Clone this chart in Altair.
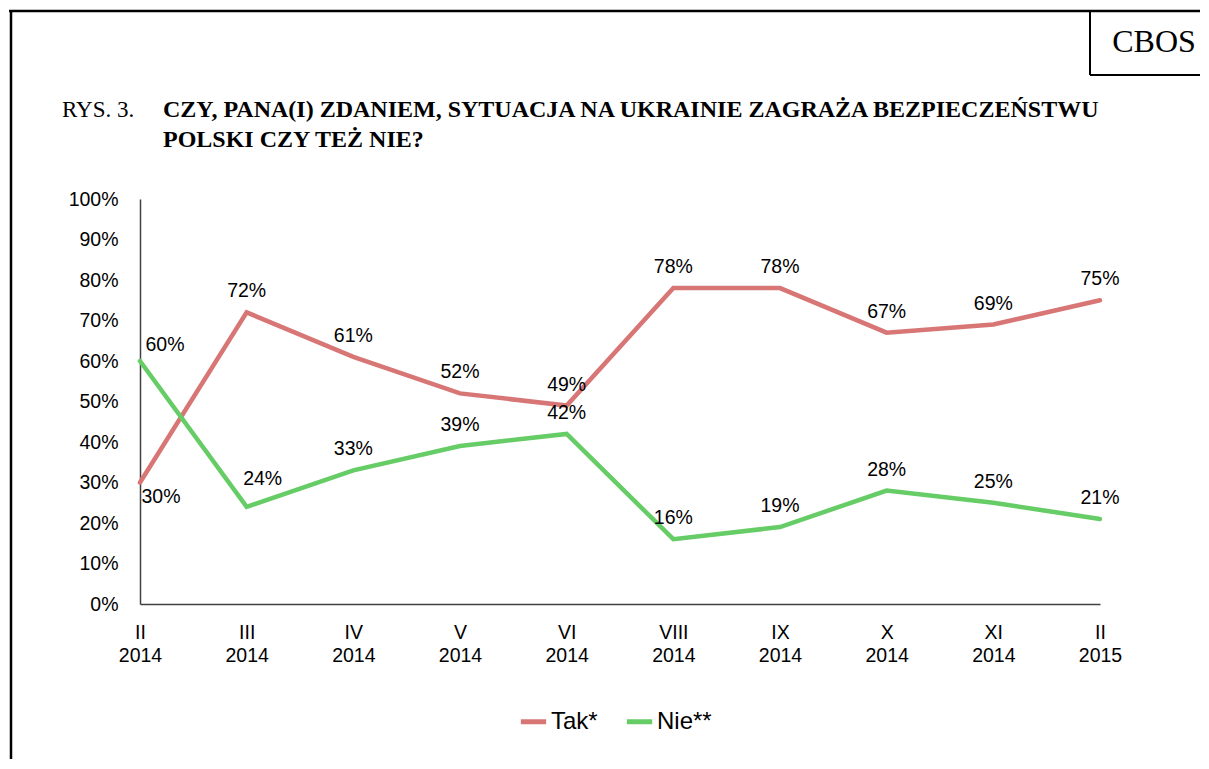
import altair as alt
import pandas as pd

months = ["II 2014", "III 2014", "IV 2014", "V 2014", "VI 2014", "VIII 2014",
          "IX 2014", "X 2014", "XI 2014", "II 2015"]
tak = [30, 72, 61, 52, 49, 78, 78, 67, 69, 75]
nie = [60, 24, 33, 39, 42, 16, 19, 28, 25, 21]
series_names = ["Tak*", "Nie**"]
colors = ["#D87676", "#66CC66"]

rows = []
for i, m in enumerate(months):
    rows.append({"month": m, "idx": i, "series": "Tak*", "value": tak[i]})
    rows.append({"month": m, "idx": i, "series": "Nie**", "value": nie[i]})
df = pd.DataFrame(rows)
df["label"] = df["value"].astype(str) + "%"

W, H = 960, 405
PADL, PADT, PADR, PADB = 132, 191, 100, 155
FS = 19.5

x = alt.X("month:N", sort=months, scale=alt.Scale(type="point", padding=0),
          axis=alt.Axis(title=None, labelAngle=0, ticks=False, domainColor="#404040",
                        domainWidth=1.5, labelFont="Liberation Sans", labelFontSize=FS,
                        labelColor="#000000", labelPadding=19, labelLineHeight=23,
                        labelExpr="split(datum.label, ' ')"))
y = alt.Y("value:Q", scale=alt.Scale(domain=[0, 100]),
          axis=alt.Axis(title=None, values=list(range(0, 101, 10)), ticks=False,
                        grid=False, domainColor="#404040", domainWidth=1.5,
                        labelFont="Liberation Sans", labelFontSize=FS, labelColor="#000000",
                        labelPadding=22, labelExpr="datum.value + '%'"))
color = alt.Color("series:N", sort=series_names,
                  scale=alt.Scale(domain=series_names, range=colors),
                  legend=alt.Legend(title=None, orient="none", direction="horizontal",
                                    legendX=378, legendY=507, symbolType="stroke",
                                    symbolStrokeWidth=5, symbolSize=640,
                                    labelFont="Liberation Sans", labelFontSize=24,
                                    labelColor="#000000", columnPadding=18,
                                    labelOffset=2))

base = alt.Chart(df)
lines = base.mark_line(strokeWidth=4.5, strokeCap="round").encode(x=x, y=y, color=color)

txt_style = dict(font="Liberation Sans", fontSize=FS, color="#000000")
labels_main = base.mark_text(dy=-21, **txt_style).transform_filter(
    "datum.idx > 1 || (datum.idx == 1 && datum.series == 'Tak*')").encode(x=x, y=y, text="label:N")
labels_nie1 = base.mark_text(dx=16, dy=-28, **txt_style).transform_filter(
    "datum.idx == 1 && datum.series == 'Nie**'").encode(x=x, y=y, text="label:N")
labels_tak0 = base.mark_text(dx=21, dy=14, **txt_style).transform_filter(
    "datum.idx == 0 && datum.series == 'Tak*'").encode(x=x, y=y, text="label:N")
labels_nie0 = base.mark_text(dx=25, dy=-16, **txt_style).transform_filter(
    "datum.idx == 0 && datum.series == 'Nie**'").encode(x=x, y=y, text="label:N")

# decorative frame and header (pixel coordinates relative to plot origin)
one = pd.DataFrame({"a": [0]})
frame_top = alt.Chart(one).mark_rule(color="#000000", strokeWidth=2.5).encode(
    x=alt.value(-131), x2=alt.value(1060), y=alt.value(-188))
frame_left = alt.Chart(one).mark_rule(color="#000000", strokeWidth=2.5).encode(
    x=alt.value(-129), y=alt.value(-189), y2=alt.value(580))
box_left = alt.Chart(one).mark_rule(color="#000000", strokeWidth=2).encode(
    x=alt.value(950), y=alt.value(-189), y2=alt.value(-124))
box_bottom = alt.Chart(one).mark_rule(color="#000000", strokeWidth=2).encode(
    x=alt.value(950), x2=alt.value(1060), y=alt.value(-124))
cbos = alt.Chart(pd.DataFrame({"t": ["CBOS"]})).mark_text(
    font="Liberation Serif", fontSize=32, align="center", baseline="middle", color="#000000"
).encode(x=alt.value(1014), y=alt.value(-157), text="t:N")
rys = alt.Chart(pd.DataFrame({"t": ["RYS.  3."]})).mark_text(
    font="Liberation Serif", fontSize=23, align="left", baseline="alphabetic", color="#000000"
).encode(x=alt.value(-78), y=alt.value(-82), text="t:N")
title1 = alt.Chart(pd.DataFrame({"t": ["CZY, PANA(I) ZDANIEM, SYTUACJA NA UKRAINIE ZAGRAŻA BEZPIECZEŃSTWU"]})).mark_text(
    font="Liberation Serif", fontSize=24, fontWeight="bold", align="left", baseline="alphabetic", color="#000000"
).encode(x=alt.value(23), y=alt.value(-82), text="t:N")
title2 = alt.Chart(pd.DataFrame({"t": ["POLSKI CZY TEŻ NIE?"]})).mark_text(
    font="Liberation Serif", fontSize=24, fontWeight="bold", align="left", baseline="alphabetic", color="#000000"
).encode(x=alt.value(23), y=alt.value(-52), text="t:N")

chart = alt.layer(lines, labels_main, labels_nie1, labels_tak0, labels_nie0,
                  frame_top, frame_left, box_left, box_bottom, cbos, rys, title1, title2
).properties(
    width=W, height=H,
    autosize=alt.AutoSizeParams(type="none"),
    padding={"left": PADL, "top": PADT, "right": PADR, "bottom": PADB},
    background="#ffffff",
).configure_view(stroke=None)

chart.save("out.html", embed_options={"renderer": "svg", "actions": False})
